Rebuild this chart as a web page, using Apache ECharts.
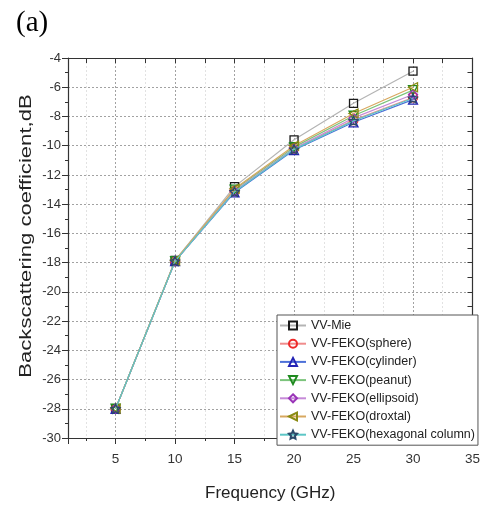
<!DOCTYPE html>
<html>
<head>
<meta charset="utf-8">
<script src="https://cdn.jsdelivr.net/npm/echarts@6/dist/echarts.min.js"></script>
<style>
  html, body { margin: 0; padding: 0; background: #fff; }
  #chart { width: 483px; height: 507px; }
</style>
</head>
<body>
<div id="chart"></div>
<script>
// Frequencies (GHz) and VV backscattering coefficients (dB)
const frequency = [5, 10, 15, 20, 25, 30];
const vvMie = [-28.0, -17.85, -12.8, -9.6, -7.1, -4.9];
const vvSphere = [-28.0, -17.9, -13.1, -10.2, -8.25, -6.7];
const vvCylinder = [-28.0, -17.9, -13.2, -10.3, -8.4, -6.85];
const vvPeanut = [-28.0, -17.9, -13.0, -10.1, -7.95, -6.2];
const vvEllipsoid = [-28.0, -17.9, -13.1, -10.2, -8.1, -6.5];
const vvDroxtal = [-28.0, -17.85, -12.95, -10.0, -7.8, -6.0];
const vvHexColumn = [-28.0, -17.9, -13.15, -10.25, -8.3, -6.75];

const seriesNames = [
  'VV-Mie', 'VV-FEKO(sphere)', 'VV-FEKO(cylinder)', 'VV-FEKO(peanut)',
  'VV-FEKO(ellipsoid)', 'VV-FEKO(droxtal)', 'VV-FEKO(hexagonal column)'
];
const seriesValues = [vvMie, vvSphere, vvCylinder, vvPeanut, vvEllipsoid, vvDroxtal, vvHexColumn];

const FONT = '"Liberation Sans", Arial, sans-serif';
const STAR = 'path://M0,-10L2.94,-4.05L9.51,-3.09L4.76,1.55L5.88,8.09L0,5L-5.88,8.09L-4.76,1.55L-9.51,-3.09L-2.94,-4.05Z';

const styles = [
  { line: '#b4b4b4', mark: '#1a1a1a', symbol: 'rect', rotate: 0, size: 8 },
  { line: '#f08c8c', mark: '#ee2a2a', symbol: 'circle', rotate: 0, size: 9 },
  { line: '#4c70d8', mark: '#2323b4', symbol: 'triangle', rotate: 0, size: 9 },
  { line: '#7cc47c', mark: '#1f8a1f', symbol: 'triangle', rotate: 180, size: 9 },
  { line: '#c68ad8', mark: '#9a34b8', symbol: 'diamond', rotate: 0, size: 9 },
  { line: '#d8a860', mark: '#8a8a12', symbol: 'triangle', rotate: 90, size: 9 },
  { line: '#5cc6c6', mark: '#2a4a6a', symbol: STAR, rotate: 0, size: 9 }
];

const series = seriesNames.map((name, i) => ({
  name: name,
  type: 'line',
  xAxisIndex: 0,
  yAxisIndex: 0,
  data: frequency.map((f, j) => [f, seriesValues[i][j]]),
  symbol: styles[i].symbol,
  symbolRotate: styles[i].rotate,
  symbolSize: styles[i].size,
  showAllSymbol: true,
  lineStyle: { color: styles[i].line, width: 1.2 },
  itemStyle: { color: 'rgba(255,255,255,0)', borderColor: styles[i].mark, borderWidth: 1.3 },
  emphasis: { disabled: true },
  z: 3 + i
}));

const gridLine = { show: true, lineStyle: { color: '#a2a2a2', type: [2, 2], width: 1 } };
const minorGridLine = { show: true, lineStyle: { color: '#e2e2e2', type: [2, 2], width: 1 } };
const axisLineStyle = { show: true, lineStyle: { color: '#333', width: 1.2 } };

const xBase = { type: 'value', min: 1, max: 35, minInterval: 5, maxInterval: 5, splitNumber: 7 };
const yBase = { type: 'value', min: -30, max: -4, interval: 2 };

const option = {
  backgroundColor: '#fff',
  animation: false,
  title: {
    text: '(a)', left: 11, top: 4,
    textStyle: { fontFamily: '"Liberation Serif", "Times New Roman", serif', fontSize: 29, fontWeight: 'normal', color: '#000' }
  },
  // y-axis title, drawn a little elongated along its baseline
  graphic: [{
    type: 'text',
    x: 26, y: 236,
    rotation: Math.PI / 2,
    scaleX: 1.34,
    style: {
      text: 'Backscattering coefficient,dB',
      fontFamily: FONT, fontSize: 16.5, fill: '#222',
      align: 'center', verticalAlign: 'middle'
    }
  }],
  grid: { left: 68, right: 9, top: 58, bottom: 63, containLabel: false },
  legend: {
    orient: 'vertical', left: 277, top: 315,
    backgroundColor: '#fff', borderColor: '#555', borderWidth: 1,
    padding: [4, 3, 4, 2],
    itemWidth: 26, itemHeight: 10, itemGap: 5.2,
    textStyle: { fontFamily: FONT, fontSize: 12.5, color: '#222' },
    data: seriesNames
  },
  xAxis: [
    Object.assign({}, xBase, {
      position: 'bottom',
      name: 'Frequency (GHz)', nameLocation: 'middle', nameGap: 47,
      nameTextStyle: { fontFamily: FONT, fontSize: 17, color: '#222' },
      axisLine: axisLineStyle,
      axisTick: { show: true, inside: false, length: 6, lineStyle: { color: '#333' } },
      minorTick: { show: true, splitNumber: 2, length: 3, lineStyle: { color: '#333' } },
      axisLabel: {
        fontFamily: FONT, fontSize: 13.5, color: '#333', margin: 14,
        formatter: v => (v % 5 === 0 ? String(v) : '')
      },
      splitLine: gridLine,
      minorSplitLine: minorGridLine
    }),
    Object.assign({}, xBase, {
      position: 'top',
      axisLine: axisLineStyle,
      axisTick: { show: true, inside: true, length: 5, lineStyle: { color: '#333' } },
      minorTick: { show: true, splitNumber: 2, length: 5, lineStyle: { color: '#333' } },
      axisLabel: { show: false },
      splitLine: { show: false }
    })
  ],
  yAxis: [
    Object.assign({}, yBase, {
      position: 'left',
      axisLine: axisLineStyle,
      axisTick: { show: true, inside: false, length: 6, lineStyle: { color: '#333' } },
      minorTick: { show: true, splitNumber: 2, length: 3, lineStyle: { color: '#333' } },
      axisLabel: { fontFamily: FONT, fontSize: 13, color: '#333', margin: 7 },
      splitLine: gridLine,
      minorSplitLine: { show: false }
    }),
    Object.assign({}, yBase, {
      position: 'right',
      axisLine: axisLineStyle,
      axisTick: { show: true, inside: true, length: 5, lineStyle: { color: '#333' } },
      minorTick: { show: true, splitNumber: 2, length: 5, lineStyle: { color: '#333' } },
      axisLabel: { show: false },
      splitLine: { show: false }
    })
  ],
  series: series
};

const chart = echarts.init(document.getElementById('chart'), null, { renderer: 'canvas' });
chart.setOption(option);
</script>
</body>
</html>
